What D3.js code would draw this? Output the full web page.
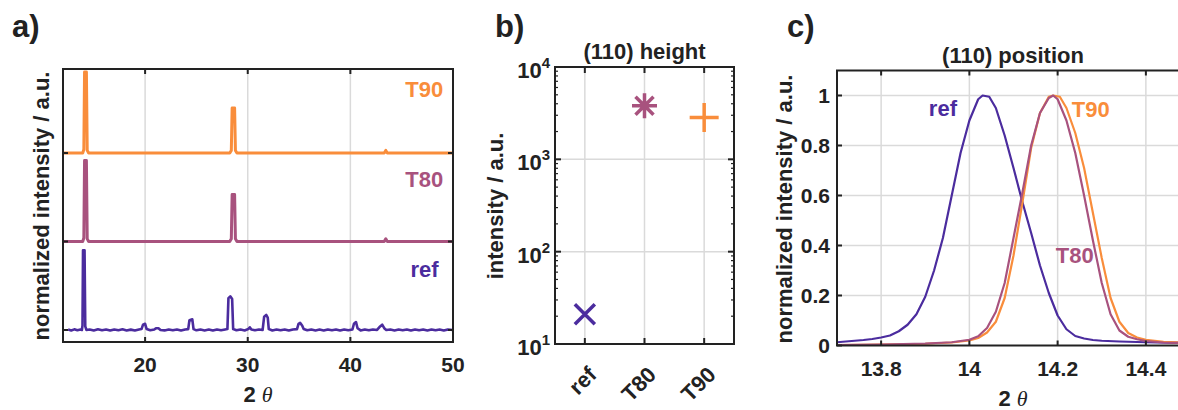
<!DOCTYPE html>
<html>
<head>
<meta charset="utf-8">
<script src="https://cdn.jsdelivr.net/npm/d3@7"></script>
<style>
  body { margin: 0; background: #fff; }
  svg text { font-family: "Liberation Sans", Arial, sans-serif; font-weight: bold; fill: #222; }
</style>
</head>
<body>
<svg id="fig" width="1178" height="410"></svg>
<script>
// ---- data ----
const samples = ["ref", "T80", "T90"];
const sampleColors = ["#4b2c9e", "#a8527e", "#f98d3b"];

// a) XRD patterns, normalized, [2theta, intensity]; stacked by offsets
const stackOffsets = [0, 1, 2];
const refXRD = [
  [12.5, 0.004], [12.8, -0.006], [13.1, 0.007], [13.4, -0.004], [13.7, 0.006], [13.84, 0.0], [13.9, 0.05],
  [13.95, 0.9], [14.1, 0.9], [14.17, 0.04], [14.28, 0.0],
  [14.6, 0.006], [15.0, -0.005], [15.4, 0.007], [15.8, -0.004], [16.2, 0.005], [16.6, -0.006], [17.0, 0.006],
  [17.4, -0.004], [17.8, 0.007], [18.2, -0.005], [18.6, 0.004], [19.0, -0.006], [19.4, 0.005],
  [19.65, 0.01], [19.8, 0.06], [20.0, 0.07], [20.15, 0.01], [20.5, -0.004], [20.9, 0.006], [21.1, 0.02],
  [21.3, 0.02], [21.5, 0.0], [21.9, -0.005], [22.3, 0.006], [22.7, -0.004], [23.1, 0.005], [23.5, -0.006], [23.9, 0.006],
  [24.2, 0.01], [24.32, 0.11], [24.6, 0.12], [24.72, 0.01], [25.0, -0.004], [25.4, 0.006], [25.8, -0.005],
  [26.2, 0.005], [26.6, -0.006], [27.0, 0.006], [27.4, -0.004], [27.8, 0.005],
  [28.02, 0.01], [28.12, 0.36], [28.3, 0.38], [28.48, 0.35], [28.58, 0.01], [28.9, -0.004], [29.3, 0.006],
  [29.7, -0.005], [30.05, 0.01], [30.2, 0.03], [30.35, 0.005], [30.7, -0.004], [31.1, 0.006], [31.45, 0.0],
  [31.6, 0.15], [31.8, 0.17], [31.95, 0.14], [32.05, 0.01], [32.4, -0.005], [32.8, 0.006], [33.2, -0.004],
  [33.6, 0.005], [34.0, -0.006], [34.4, 0.006], [34.8, 0.01],
  [34.95, 0.07], [35.1, 0.08], [35.3, 0.05], [35.45, 0.01], [35.8, -0.004], [36.2, 0.006], [36.6, -0.005],
  [37.0, 0.005], [37.4, -0.006], [37.8, 0.006], [38.2, -0.004], [38.6, 0.005], [39.0, -0.006], [39.4, 0.006],
  [39.8, -0.004], [40.2, 0.005], [40.35, 0.07], [40.55, 0.09], [40.7, 0.02], [41.0, -0.005], [41.4, 0.006],
  [41.8, -0.004], [42.2, 0.005], [42.6, 0.0], [42.9, 0.04], [43.1, 0.06], [43.3, 0.02], [43.5, 0.0],
  [43.9, 0.006], [44.3, -0.005], [44.7, 0.006], [45.1, -0.004], [45.5, 0.005], [45.9, -0.006], [46.3, 0.006],
  [46.7, -0.004], [47.1, 0.005], [47.5, -0.006], [47.9, 0.006], [48.3, -0.004], [48.7, 0.005], [49.1, -0.005],
  [49.5, 0.006], [50.0, 0.0]
];
const t80XRD = [
  [12.0, 0], [13.92, 0], [14.03, 0.04], [14.1, 0.915], [14.28, 0.915], [14.36, 0.03], [14.5, 0],
  [28.25, 0], [28.4, 0.03], [28.48, 0.53], [28.72, 0.53], [28.8, 0.03], [28.95, 0],
  [43.3, 0], [43.45, 0.03], [43.6, 0], [50, 0]
];
const t90XRD = [
  [12.0, 0], [13.92, 0], [14.03, 0.04], [14.1, 0.915], [14.28, 0.915], [14.36, 0.03], [14.5, 0],
  [28.25, 0], [28.4, 0.03], [28.48, 0.51], [28.72, 0.51], [28.8, 0.03], [28.95, 0],
  [43.3, 0], [43.45, 0.03], [43.6, 0], [50, 0]
];
const xrdTicksX = [20, 30, 40, 50];

// b) (110) peak height
const peakHeights = [21, 3800, 2830];
const heightTicks = [10, 100, 1000, 10000];

// c) (110) peak, normalized, [2theta, intensity]
const refPeak = [
  [13.70, 0.013], [13.72, 0.016], [13.74, 0.019], [13.76, 0.022], [13.78, 0.026], [13.80, 0.032],
  [13.82, 0.040], [13.84, 0.057], [13.86, 0.083], [13.88, 0.125], [13.90, 0.195], [13.92, 0.30],
  [13.94, 0.43], [13.96, 0.60], [13.98, 0.77], [14.00, 0.90], [14.02, 0.985], [14.03, 1.0], [14.045, 0.995],
  [14.06, 0.95], [14.08, 0.84], [14.10, 0.71], [14.12, 0.575], [14.14, 0.45], [14.16, 0.32], [14.18, 0.21],
  [14.20, 0.12], [14.22, 0.065], [14.24, 0.038], [14.26, 0.028], [14.28, 0.022], [14.30, 0.019],
  [14.34, 0.016], [14.40, 0.013], [14.50, 0.010]
];
const t80Peak = [
  [13.70, 0.002], [13.80, 0.004], [13.90, 0.008], [13.96, 0.013], [14.00, 0.023], [14.02, 0.037],
  [14.04, 0.07], [14.06, 0.135], [14.08, 0.25], [14.10, 0.43], [14.12, 0.61], [14.14, 0.80], [14.16, 0.93],
  [14.18, 0.99], [14.19, 1.0], [14.20, 0.985], [14.22, 0.90], [14.24, 0.77], [14.26, 0.60], [14.28, 0.42],
  [14.30, 0.25], [14.32, 0.125], [14.34, 0.06], [14.36, 0.035], [14.38, 0.025], [14.40, 0.018], [14.44, 0.012],
  [14.50, 0.009]
];
const t90Peak = [
  [13.70, 0.002], [13.80, 0.004], [13.90, 0.007], [13.96, 0.012], [14.00, 0.02], [14.02, 0.03],
  [14.04, 0.052], [14.06, 0.095], [14.08, 0.19], [14.10, 0.36], [14.12, 0.57], [14.14, 0.79], [14.16, 0.93],
  [14.18, 0.995], [14.19, 1.0], [14.205, 0.995], [14.22, 0.95], [14.24, 0.85], [14.26, 0.71], [14.28, 0.53],
  [14.30, 0.35], [14.32, 0.19], [14.34, 0.095], [14.36, 0.05], [14.38, 0.032], [14.40, 0.023], [14.44, 0.015],
  [14.50, 0.01]
];
const posTicksX = [13.8, 14, 14.2, 14.4];
const posTicksY = [0, 0.2, 0.4, 0.6, 0.8, 1];

// ---- drawing ----
const svg = d3.select("#fig");
const gridColor = "#dadada";
const axisColor = "#222";

// helper: plain box around the axes
function drawBox(g, x, y) {
  const [x0, x1] = x.range(), [y0, y1] = y.range();
  g.append("rect")
    .attr("x", x0).attr("y", y1)
    .attr("width", x1 - x0).attr("height", y0 - y1)
    .attr("fill", "none").attr("stroke", axisColor).attr("stroke-width", 2);
}

// inward ticks on all four sides
function addTicks(g, x, y, xt, yt, len) {
  const [x0, x1] = x.range(), [y0, y1] = y.range();
  xt.forEach(t => {
    g.append("line").attr("x1", x(t)).attr("x2", x(t)).attr("y1", y0).attr("y2", y0 - len)
      .attr("stroke", axisColor).attr("stroke-width", 2);
    g.append("line").attr("x1", x(t)).attr("x2", x(t)).attr("y1", y1).attr("y2", y1 + len)
      .attr("stroke", axisColor).attr("stroke-width", 2);
  });
  yt.forEach(t => {
    g.append("line").attr("x1", x0).attr("x2", x0 + len).attr("y1", y(t)).attr("y2", y(t))
      .attr("stroke", axisColor).attr("stroke-width", 2);
    g.append("line").attr("x1", x1).attr("x2", x1 - len).attr("y1", y(t)).attr("y2", y(t))
      .attr("stroke", axisColor).attr("stroke-width", 2);
  });
}

function thetaLabel(g, cx, cy) {
  const t = g.append("text").attr("x", cx).attr("y", cy).attr("text-anchor", "middle").style("font-size", "22px");
  t.append("tspan").text("2 ");
  t.append("tspan").text("\u03B8")
    .style("font-family", "'Liberation Serif', 'DejaVu Serif', serif")
    .style("font-style", "italic").style("font-weight", "normal");
}

function panelLetter(x, y, s) {
  svg.append("text").attr("x", x).attr("y", y).style("font-size", "31px").text(s);
}

// ===== a) XRD patterns =====
{
  const x = d3.scaleLinear().domain([12, 50]).range([63, 453]);
  const y = d3.scaleLinear().domain([-0.136, 2.95]).range([342, 69]);
  const g = svg.append("g");

  g.append("clipPath").attr("id", "clipA").append("rect")
    .attr("x", 63).attr("y", 69).attr("width", 390).attr("height", 273);

  g.selectAll(".gx").data([20, 30, 40]).enter().append("line")
    .attr("x1", d => x(d)).attr("x2", d => x(d)).attr("y1", y.range()[0]).attr("y2", y.range()[1])
    .attr("stroke", gridColor).attr("stroke-width", 1.5);

  const patterns = [refXRD, t80XRD, t90XRD];
  patterns.forEach((pts, i) => {
    const line = d3.line().x(d => x(d[0])).y(d => y(d[1] + stackOffsets[i]));
    g.append("path").datum(pts)
      .attr("clip-path", "url(#clipA)")
      .attr("fill", "none").attr("stroke", sampleColors[i])
      .attr("stroke-width", i === 0 ? 2.6 : 3)
      .attr("stroke-linejoin", "round")
      .attr("d", line);
  });

  drawBox(g, x, y);
  addTicks(g, x, y, [20, 30, 40], stackOffsets, 5);

  g.selectAll(".xl").data(xrdTicksX).enter().append("text")
    .attr("x", d => x(d)).attr("y", 372).attr("text-anchor", "middle")
    .style("font-size", "21px").text(d => d);

  // series names
  const namePos = [[48.6, 0.6], [49.05, 1.62], [49.05, 2.63]];
  samples.forEach((s, i) => {
    g.append("text").attr("x", x(namePos[i][0])).attr("y", y(namePos[i][1]))
      .attr("text-anchor", "end").style("font-size", "22px")
      .style("fill", sampleColors[i]).text(s);
  });

  g.append("text").attr("transform", "translate(49,206) rotate(-90)")
    .attr("text-anchor", "middle").style("font-size", "22px")
    .text("normalized intensity / a.u.");
  thetaLabel(g, 258, 402);
  panelLetter(12, 37, "a)");
}

// ===== b) peak height =====
{
  const x = d3.scaleLinear().domain([0.5, 3.5]).range([555, 734]);
  const y = d3.scaleLog().domain([10, 10000]).range([344, 67]);
  const g = svg.append("g");
  const cats = [1, 2, 3];

  cats.forEach(c => g.append("line").attr("x1", x(c)).attr("x2", x(c)).attr("y1", 344).attr("y2", 67)
    .attr("stroke", gridColor).attr("stroke-width", 1.5));
  heightTicks.slice(1, 3).forEach(t => g.append("line").attr("x1", 555).attr("x2", 734).attr("y1", y(t)).attr("y2", y(t))
    .attr("stroke", gridColor).attr("stroke-width", 1.5));

  drawBox(g, x, y);
  addTicks(g, x, y, cats, heightTicks, 6);
  // minor log ticks
  const minors = [];
  for (let k = 10; k < 10000; k *= 10) for (let m = 2; m <= 9; m++) minors.push(k * m);
  minors.forEach(t => {
    g.append("line").attr("x1", 555).attr("x2", 558).attr("y1", y(t)).attr("y2", y(t)).attr("stroke", axisColor).attr("stroke-width", 1.2);
    g.append("line").attr("x1", 734).attr("x2", 731).attr("y1", y(t)).attr("y2", y(t)).attr("stroke", axisColor).attr("stroke-width", 1.2);
  });

  // markers: x, asterisk, plus
  const markerPaths = [
    r => `M${-r},${-r}L${r},${r}M${-r},${r}L${r},${-r}`,
    r => { const d = r * 0.72; return `M0,${-r}L0,${r}M${-r},0L${r},0M${-d},${-d}L${d},${d}M${-d},${d}L${d},${-d}`; },
    r => `M0,${-r}L0,${r}M${-r},0L${r},0`
  ];
  const markerSizes = [10, 12.5, 14.5];
  peakHeights.forEach((v, i) => {
    g.append("path")
      .attr("transform", `translate(${x(cats[i])},${y(v)})`)
      .attr("d", markerPaths[i](markerSizes[i]))
      .attr("fill", "none").attr("stroke", sampleColors[i]).attr("stroke-width", 3.5);
  });

  heightTicks.forEach(t => {
    const txt = g.append("text").attr("x", 550).attr("y", y(t) + 11).attr("text-anchor", "end")
      .style("font-size", "22px");
    txt.append("tspan").text("10");
    txt.append("tspan").attr("dy", -10).style("font-size", "15px").text(Math.round(Math.log10(t)));
  });

  samples.forEach((s, i) => {
    g.append("text")
      .attr("transform", `translate(${x(cats[i]) + 13},${376}) rotate(-45)`)
      .attr("text-anchor", "end").style("font-size", "22px").text(s);
  });

  g.append("text").attr("x", (555 + 734) / 2).attr("y", 59).attr("text-anchor", "middle")
    .style("font-size", "22px").text("(110) height");
  g.append("text").attr("transform", "translate(503,206) rotate(-90)")
    .attr("text-anchor", "middle").style("font-size", "22px").text("intensity / a.u.");
  panelLetter(495, 37, "b)");
}

// ===== c) peak position =====
{
  const x = d3.scaleLinear().domain([13.7, 14.5]).range([837, 1190]);
  const y = d3.scaleLinear().domain([0, 1.1]).range([345.5, 70.5]);
  const g = svg.append("g");

  g.append("clipPath").attr("id", "clipC").append("rect")
    .attr("x", 837).attr("y", 70.5).attr("width", 353).attr("height", 275);

  posTicksX.forEach(t => g.append("line").attr("x1", x(t)).attr("x2", x(t)).attr("y1", 345.5).attr("y2", 70.5)
    .attr("stroke", gridColor).attr("stroke-width", 1.5));
  posTicksY.slice(1).forEach(t => g.append("line").attr("x1", 837).attr("x2", 1190).attr("y1", y(t)).attr("y2", y(t))
    .attr("stroke", gridColor).attr("stroke-width", 1.5));

  const line = d3.line().x(d => x(d[0])).y(d => y(d[1]));
  [refPeak, t90Peak, t80Peak].forEach((pts, j) => {
    const i = [0, 2, 1][j];
    g.append("path").datum(pts).attr("clip-path", "url(#clipC)")
      .attr("fill", "none").attr("stroke", sampleColors[i]).attr("stroke-width", 2.2)
      .attr("stroke-linejoin", "round").attr("d", line);
  });

  drawBox(g, x, y);
  addTicks(g, x, y, posTicksX, posTicksY, 5);

  posTicksX.forEach(t => g.append("text").attr("x", x(t)).attr("y", 376).attr("text-anchor", "middle")
    .style("font-size", "21px").text(t));
  posTicksY.forEach(t => g.append("text").attr("x", 830).attr("y", y(t) + 7.5).attr("text-anchor", "end")
    .style("font-size", "21px").text(t));

  const namePos = [[13.94, 0.918], [14.239, 0.33], [14.275, 0.914]];
  samples.forEach((s, i) => {
    g.append("text").attr("x", x(namePos[i][0])).attr("y", y(namePos[i][1]))
      .attr("text-anchor", "middle").style("font-size", "22px")
      .style("fill", sampleColors[i]).text(s);
  });

  g.append("text").attr("x", 1013).attr("y", 63).attr("text-anchor", "middle")
    .style("font-size", "22px").text("(110) position");
  g.append("text").attr("transform", "translate(792,209) rotate(-90)")
    .attr("text-anchor", "middle").style("font-size", "22px").text("normalized intensity / a.u.");
  thetaLabel(g, 1013, 406);
  panelLetter(787, 37, "c)");
}
</script>
</body>
</html>
